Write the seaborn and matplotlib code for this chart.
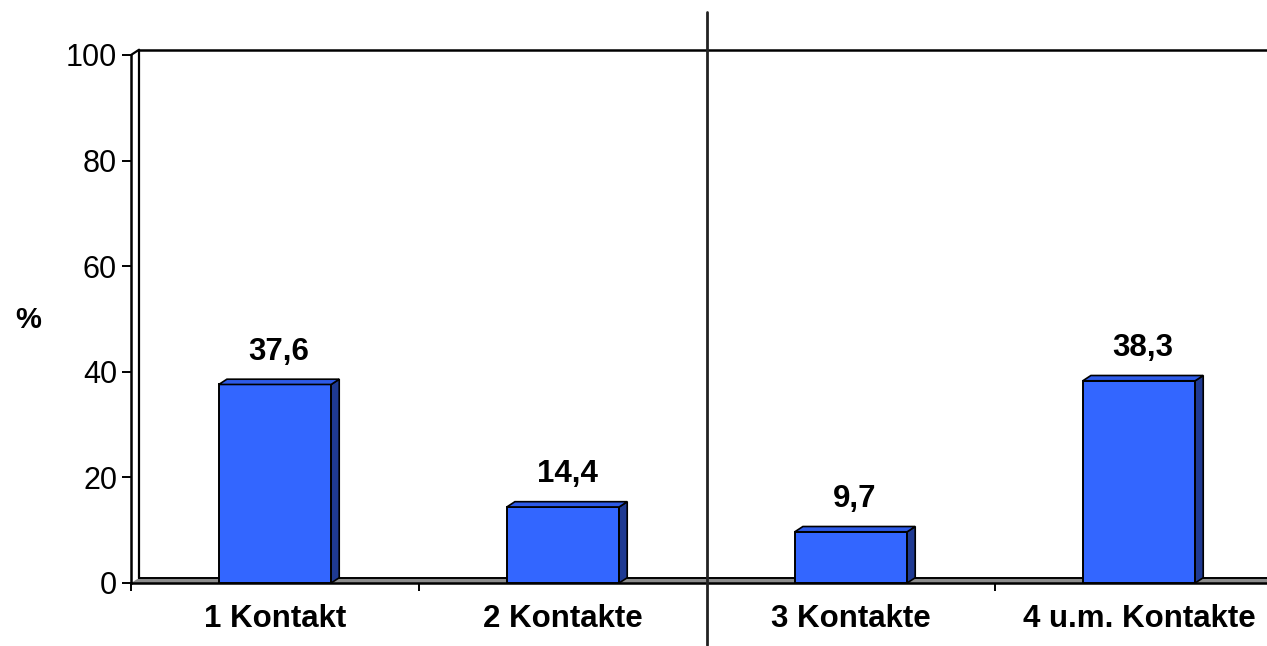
import matplotlib
matplotlib.use("Agg")
import matplotlib.pyplot as plt
from matplotlib.patches import Polygon
import seaborn as sns
import pandas as pd

# Contact frequency shares (percent)
categories = ["1 Kontakt", "2 Kontakte", "3 Kontakte", "4 u.m. Kontakte"]
values = [37.6, 14.4, 9.7, 38.3]
value_labels = ["37,6", "14,4", "9,7", "38,3"]
yticks = [0, 20, 40, 60, 80, 100]

sns.set_theme(style="white")
plt.rcParams["font.family"] = ["Liberation Sans", "DejaVu Sans"]
plt.rcParams["text.color"] = "black"
plt.rcParams["xtick.color"] = "black"
plt.rcParams["ytick.color"] = "black"

FRONT = "#3366FF"
TOP = "#2E5BE8"
SIDE = "#1F3A93"
FLOOR = "#8C8C8C"

# pseudo-3D depth, in data units
DX = 0.028
DY = 1.0

df = pd.DataFrame({"cat": categories, "val": values})

fig = plt.figure(figsize=(12.67, 6.46), dpi=100)
ax = fig.add_axes([131 / 1267, 63 / 646, 1152 / 1267, 528 / 646])

sns.barplot(data=df, x="cat", y="val", order=categories, color=FRONT,
            width=0.39, edgecolor="black", linewidth=1.4, saturation=1,
            ax=ax, zorder=3)

ax.set_xlim(-0.5, len(categories) - 0.5)
ax.set_ylim(0, 100)

# back wall and floor
x0, x1 = -0.5, len(categories) - 0.5
floor = Polygon([(x0, 0), (x1 + DX, 0), (x1 + DX, DY), (x0 + DX, DY)],
                closed=True, facecolor=FLOOR, edgecolor="none",
                clip_on=False, zorder=1)
ax.add_patch(floor)
ax.plot([x0, x1 + DX], [0, 0], color="black", lw=1.8, clip_on=False, zorder=2)
ax.plot([x0 + DX, x1 + DX], [DY, DY], color="black", lw=1.4, clip_on=False, zorder=2)
ax.plot([x0 + DX, x0 + DX], [DY, 100 + DY], color="black", lw=1.6, clip_on=False, zorder=2)
ax.plot([x0, x0 + DX], [100, 100 + DY], color="black", lw=1.6, clip_on=False, zorder=2)
ax.plot([x0 + DX, x1 + DX], [100 + DY, 100 + DY], color="black", lw=1.8, clip_on=False, zorder=2)

# side and top faces for each bar, plus value labels
for patch, lab in zip(ax.patches, value_labels):
    bx = patch.get_x()
    bw = patch.get_width()
    bh = patch.get_height()
    side = Polygon([(bx + bw, 0), (bx + bw + DX, DY), (bx + bw + DX, bh + DY), (bx + bw, bh)],
                   closed=True, facecolor=SIDE, edgecolor="black", lw=1.2, zorder=3)
    top = Polygon([(bx, bh), (bx + DX, bh + DY), (bx + bw + DX, bh + DY), (bx + bw, bh)],
                  closed=True, facecolor=TOP, edgecolor="black", lw=1.2, zorder=3)
    ax.add_patch(side)
    ax.add_patch(top)
    ax.annotate(lab, xy=(bx + bw / 2 + DX / 2, bh + DY), xytext=(0, 9),
                textcoords="offset points", ha="center", va="bottom",
                fontsize=22.5, fontweight="bold", color="black")

# divider between the two category groups
ax.plot([1.5, 1.5], [-11.7, 108.1], color="#222222", lw=2, clip_on=False, zorder=4)

for s in ["top", "right", "bottom"]:
    ax.spines[s].set_visible(False)
ax.spines["left"].set_color("black")
ax.spines["left"].set_linewidth(1.8)

ax.set_yticks(yticks)
ax.set_yticklabels([str(t) for t in yticks], fontsize=22, color="black")
ax.tick_params(axis="y", left=True, direction="out", length=6.5, width=1.4,
               color="black", labelcolor="black", pad=3.5)

ax.set_xticks(range(len(categories)))
ax.set_xticklabels(categories, fontsize=22.5, fontweight="bold", color="black")
ax.set_xticks([-0.5, 0.5, 2.5, 3.5], minor=True)
ax.tick_params(axis="x", which="major", length=0, pad=15, labelcolor="black")
ax.tick_params(axis="x", which="minor", bottom=True, direction="out",
               length=6, width=1.4, color="black")
ax.set_xlabel("")
ax.set_ylabel("")
ax.grid(False)

fig.text(28 / 1267, 1 - 320 / 646, "%", ha="center", va="center",
         fontsize=21, fontweight="bold", color="black")

fig.savefig("out.png", dpi=100, facecolor="white")
